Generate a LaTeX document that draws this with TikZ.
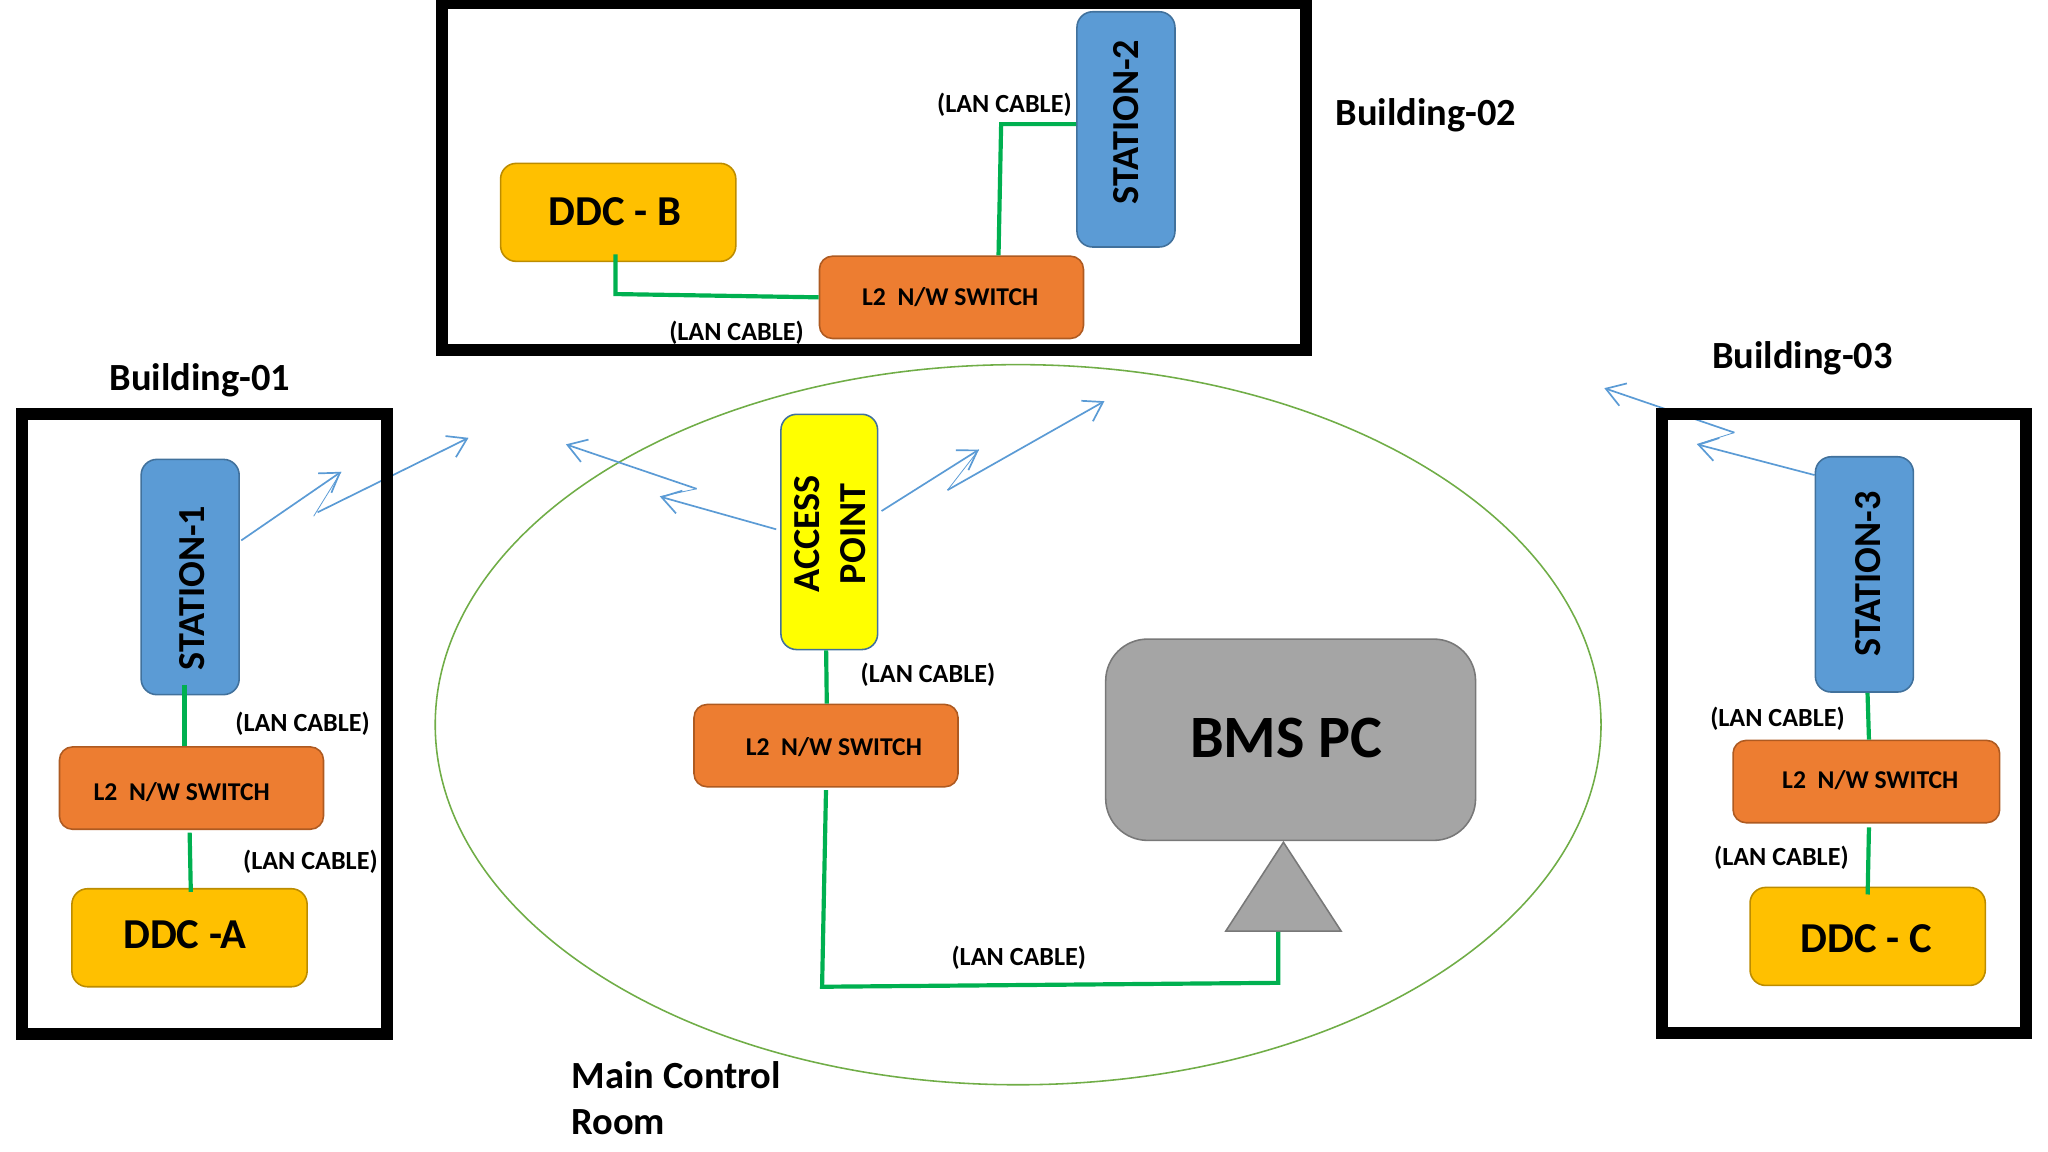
\documentclass[tikz,border=0pt]{standalone}
\usepackage{fontspec}
\setmainfont{Carlito}
\usetikzlibrary{arrows.meta, shapes.geometric, backgrounds}
\definecolor{wifiblue}{HTML}{5B9BD5}
\definecolor{stationedge}{HTML}{41719C}
\definecolor{accessfill}{RGB}{255,255,0}
\definecolor{switchfill}{HTML}{ED7D31}
\definecolor{switchedge}{HTML}{AE5A21}
\definecolor{ddcfill}{HTML}{FFC000}
\definecolor{ddcedge}{HTML}{BC8C00}
\definecolor{pcfill}{HTML}{A5A5A5}
\definecolor{pcedge}{HTML}{787878}
\definecolor{cablegreen}{HTML}{00B050}
\definecolor{roomgreen}{HTML}{70AD47}
\tikzset{
  box/.style={rectangle, draw, rounded corners=6pt, inner sep=0pt, line width=0.6pt},
  station/.style={box, fill=wifiblue, draw=stationedge, minimum width=37.5pt, minimum height=90pt},
  access/.style={box, fill=accessfill, draw=stationedge, minimum width=37pt, minimum height=90pt},
  ddc/.style={box, fill=ddcfill, draw=ddcedge, minimum width=90pt, minimum height=37.5pt},
  switch/.style={box, fill=switchfill, draw=switchedge, rounded corners=5pt, minimum width=101pt, minimum height=31.5pt},
  frame/.style={rectangle, draw=black, line width=4.6pt, inner sep=0pt, minimum width=139.5pt, minimum height=237pt},
  lan/.style={draw=cablegreen, line width=1.6pt},
  wifi/.style={draw=wifiblue, line width=0.65pt, -{Straight Barb[length=7pt,width=9pt]}},
  kink/.style={draw=wifiblue, line width=0.3pt},
  cablelabel/.style={font=\bfseries\fontsize{10}{12}\selectfont},
  switchlabel/.style={font=\bfseries\fontsize{9.8}{12}\selectfont},
  buildinglabel/.style={font=\bfseries\fontsize{14.7}{16}\selectfont},
  ddclabel/.style={font=\bfseries\fontsize{16.3}{18}\selectfont},
  uplabel/.style={font=\bfseries\fontsize{14.6}{17.5}\selectfont, rotate=90},
}
\begin{document}
\begin{tikzpicture}[x=0.5pt, y=-0.5pt]
    \useasboundingbox (0,0) rectangle (1567,881.4);
    % buildings
    \node [frame] (buildingA) at (156.5,554) {};
    \node [frame, minimum width=330.5pt, minimum height=133pt] (buildingB) at (668.5,135) {};
    \node [frame] (buildingC) at (1411,553.5) {};
    \node [buildinglabel] (nameA) at (153,291) {Building-01};
    \node [buildinglabel] (nameB) at (1091,88) {Building-02};
    \node [buildinglabel] (nameC) at (1379,274.5) {Building-03};
    \node [align=left, anchor=north west, inner sep=0pt, font=\bfseries\fontsize{14.7}{17.5}\selectfont] (roomtext) at (437,812) {Main Control\\Room};
    % equipment
    \node [station] (stationA) at (145.5,441.5) {};
    \node [station] (stationB) at (861.5,99) {};
    \node [station] (stationC) at (1426.5,439.5) {};
    \node [access] (access) at (634.5,407) {};
    \node [switch] (switchA) at (146.5,603) {};
    \node [switch] (switchB) at (728,227.5) {};
    \node [switch] (switchM) at (632,570.5) {};
    \node [switch, minimum width=102pt] (switchC) at (1428,598) {};
    \node [ddc] (ddcA) at (145,717.5) {};
    \node [ddc] (ddcB) at (473,162.5) {};
    \node [ddc] (ddcC) at (1429,716.5) {};
    \node [box, fill=pcfill, draw=pcedge, rounded corners=16pt, minimum width=141.5pt, minimum height=77pt] (pc) at (987.5,566) {};
    \node [isosceles triangle, isosceles triangle apex angle=66, shape border rotate=90, fill=pcfill, draw=pcedge, line width=0.6pt, inner sep=0pt, minimum height=34pt] (stand) at (982,688.5) {};
    % main control room and wireless links, under the frames
    \coordinate (tipA1) at (261,361);
    \coordinate (bendA1) at (240,395);
    \coordinate (bendA2) at (243,392);
    \coordinate (tipA2) at (358.5,335);
    \coordinate (tipR1) at (749,344);
    \coordinate (bendR1) at (725,375);
    \coordinate (tipR2) at (845,307);
    \coordinate (tipL1) at (505,380);
    \coordinate (bendL1) at (533,374);
    \coordinate (tipL2) at (433,340);
    \coordinate (tipC1) at (1298.5,340);
    \coordinate (bendC1) at (1327,331);
    \coordinate (tipC2) at (1227.5,297);
    \begin{scope}[on background layer]
        \node [ellipse, draw=roomgreen, line width=0.6pt, minimum width=446pt, minimum height=275.5pt, inner sep=0pt] (room) at (779,554.5) {};
        \draw [wifi] ([xshift=0.5pt, yshift=14pt]stationA.east) -- (tipA1);
        \draw [kink] (tipA1) -- (bendA1);
        \draw [wifi] (bendA2) -- (tipA2);
        \draw [wifi] ([xshift=1.2pt, yshift=8pt]access.east) -- (tipR1);
        \draw [kink] (tipR1) -- (bendR1);
        \draw [wifi] (bendR1) -- (tipR2);
        \draw [wifi] ([xshift=-1.5pt, yshift=1pt]access.west) -- (tipL1);
        \draw [kink] (tipL1) -- (bendL1);
        \draw [wifi] (bendL1) -- (tipL2);
        \draw [wifi] ([yshift=38pt]stationC.west) -- (tipC1);
        \draw [kink] (tipC1) -- (bendC1);
        \draw [wifi] (bendC1) -- (tipC2);
    \end{scope}
    % cables
    \coordinate (bendB1) at (471,225);
    \coordinate (bendB2) at (766,95);
    \coordinate (bendM1) at (629,755);
    \coordinate (bendM2) at (978,752);
    \draw [lan] ([xshift=-2.2pt, yshift=4pt]stationA.south) -- ([xshift=-2.7pt]switchA.north);
    \draw [lan] ([xshift=-0.7pt, yshift=-1pt]switchA.south) -- ([xshift=0.5pt, yshift=-1.5pt]ddcA.north);
    \draw [lan] ([xshift=1.2pt]stationC.south) -- ([xshift=1pt]switchC.north);
    \draw [lan] ([xshift=1pt, yshift=-1.5pt]switchC.south) -- ([yshift=-3pt]ddcC.north);
    \draw [lan] ([xshift=-1.2pt]access.south) -- ([xshift=0.3pt]switchM.north);
    \draw [lan] ([yshift=-1pt]switchM.south) -- (bendM1) -- (bendM2) -- ([xshift=-2pt]stand.south);
    \draw [lan] ([xshift=-1pt, yshift=3pt]ddcB.south) -- (bendB1) -- (switchB.west);
    \draw [lan] ([xshift=18pt]switchB.north) -- (bendB2) -- ([yshift=2pt]stationB.west);
    % texts
    \node [uplabel] (textA) at (147,450) {STATION-1};
    \node [uplabel] (textB) at (862,93.5) {STATION-2};
    \node [uplabel] (textC) at (1429.5,439) {STATION-3};
    \node [uplabel, align=center] (textAP) at (635,408.5) {ACCESS\\POINT};
    \node [ddclabel] (textDA) at (141.5,715) {DDC -A};
    \node [ddclabel] (textDB) at (470.5,162) {DDC - B};
    \node [ddclabel] (textDC) at (1428,718) {DDC - C};
    \node [font=\bfseries\fontsize{23}{26}\selectfont] (textPC) at (984,565) {BMS PC};
    \node [switchlabel] (textSA) at (139,606) {L2\ \ N/W SWITCH};
    \node [switchlabel] (textSB) at (727,227) {L2\ \ N/W SWITCH};
    \node [switchlabel] (textSM) at (638,572) {L2\ \ N/W SWITCH};
    \node [switchlabel] (textSC) at (1431,597) {L2\ \ N/W SWITCH};
    \node [cablelabel] (lanA1) at (231.5,553.5) {(LAN CABLE)};
    \node [cablelabel] (lanA2) at (237.5,659.5) {(LAN CABLE)};
    \node [cablelabel] (lanM1) at (710,516.5) {(LAN CABLE)};
    \node [cablelabel] (lanM2) at (779.5,732.5) {(LAN CABLE)};
    \node [cablelabel] (lanB1) at (768.5,80.5) {(LAN CABLE)};
    \node [cablelabel] (lanB2) at (563.5,254.5) {(LAN CABLE)};
    \node [cablelabel] (lanC1) at (1360,550) {(LAN CABLE)};
    \node [cablelabel] (lanC2) at (1363,656) {(LAN CABLE)};
\end{tikzpicture}
\end{document}
